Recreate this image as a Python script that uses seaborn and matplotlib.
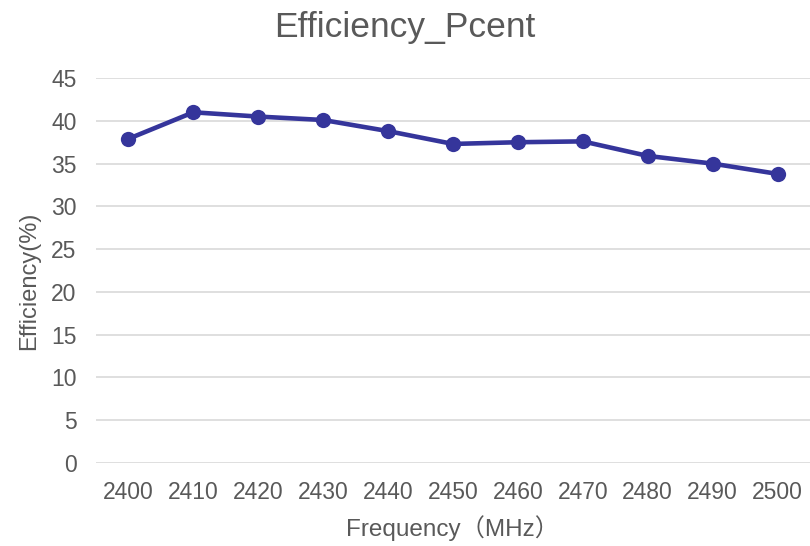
import matplotlib.pyplot as plt
import seaborn as sns
import pandas as pd

# valores
frequencias = [2400, 2410, 2420, 2430, 2440, 2450, 2460, 2470, 2480, 2490, 2500]
eficiencia = [37.9, 41.0, 40.5, 40.1, 38.8, 37.3, 37.5, 37.6, 35.9, 35.0, 33.8]
y_ticks = [0, 5, 10, 15, 20, 25, 30, 35, 40, 45]

df = pd.DataFrame({'freq': frequencias, 'eff': eficiencia})

sns.set_style("white")
plt.rcParams['font.family'] = ['Liberation Sans', 'Noto Sans CJK SC', 'DejaVu Sans']

fig = plt.figure(figsize=(8.1, 5.46), dpi=100)
ax = fig.add_axes([0.1185, 0.152, 0.8815, 0.705])

sns.lineplot(x='freq', y='eff', data=df, ax=ax, color='#35359b', linewidth=3.3,
             marker='o', markersize=11, markeredgewidth=0, zorder=3)

ax.set_xlim(2395, 2505)
ax.set_ylim(0, 45)
ax.set_xticks(frequencias)
ax.set_yticks(y_ticks)
ax.grid(axis='y', color='#d9d9d9', linewidth=1.2)
ax.grid(axis='x', visible=False)
for s in ax.spines.values():
    s.set_visible(False)

ax.tick_params(axis='both', length=0, labelsize=16.5, labelcolor='#595959')
ax.tick_params(axis='y', pad=14)
ax.tick_params(axis='x', pad=13)

# título centralizado na figura, como no Excel
fig.text(0.5, 1 - 37 / 546, 'Efficiency_Pcent', fontsize=25.5, color='#595959',
         ha='center', va='baseline')
ax.set_xlabel('Frequency（MHz）', fontsize=17.5, color='#595959', labelpad=8)
ax.set_ylabel('Efficiency(%)', fontsize=17, color='#595959', labelpad=8)
ax.yaxis.label.set_y(0.473)

fig.savefig('out.png', dpi=100)
